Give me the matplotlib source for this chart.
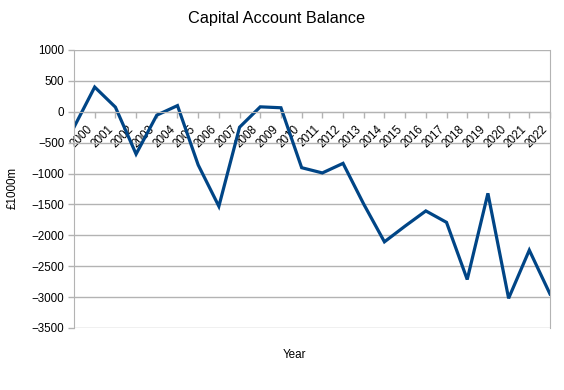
import numpy as np
import matplotlib
matplotlib.use("Agg")
import matplotlib.pyplot as plt

# capital account balance, £1000m (first point has no year label)
years = [''] + [str(y) for y in range(2000, 2023)]
balance = [-250, 400, 75, -685, -55, 100, -860, -1530, -250, 80, 65, -905,
           -990, -835, -1495, -2105, -1850, -1605, -1790, -2715, -1320,
           -3020, -2240, -2950]

plt.rcParams['font.family'] = ['Liberation Sans', 'DejaVu Sans']
grey = '#b3b3b3'

fig = plt.figure(figsize=(5.64, 3.9), dpi=100)
ax = fig.add_axes([74 / 564, 1 - 328 / 390, 476 / 564, 278 / 390])

# spine move resets ticks, so do it first
for side in ['left', 'right', 'bottom']:
    ax.spines[side].set_color(grey)
ax.spines['top'].set_visible(False)
ax.spines['bottom'].set_position(('data', 0))

x = np.arange(len(balance))
ax.plot(x, balance, color='#004586', linewidth=2.3, solid_joinstyle='miter')

ax.set_xlim(0, len(balance) - 1)
ax.set_ylim(-3500, 1000)
ax.set_yticks(np.arange(-3500, 1001, 500))
ax.yaxis.grid(True, color=grey, linewidth=1)
ax.set_axisbelow(True)

ax.set_xticks(x)
ax.set_xticklabels(years, rotation=45, ha='right', va='top')

ax.tick_params(axis='both', colors=grey, labelcolor='black', labelsize=8.4,
               length=4, width=1)
ax.tick_params(axis='y', pad=3)
ax.tick_params(axis='x', pad=4)

fig.text(277 / 564, 1 - 18 / 390, 'Capital Account Balance', ha='center',
         va='center', fontsize=11.7)
fig.text(294 / 564, 1 - 355 / 390, 'Year', ha='center', va='center', fontsize=8.4)
fig.text(13 / 564, 1 - 188 / 390, '£1000m', ha='center', va='center',
         rotation=90, fontsize=8.4)

fig.savefig('out.png', dpi=100)
